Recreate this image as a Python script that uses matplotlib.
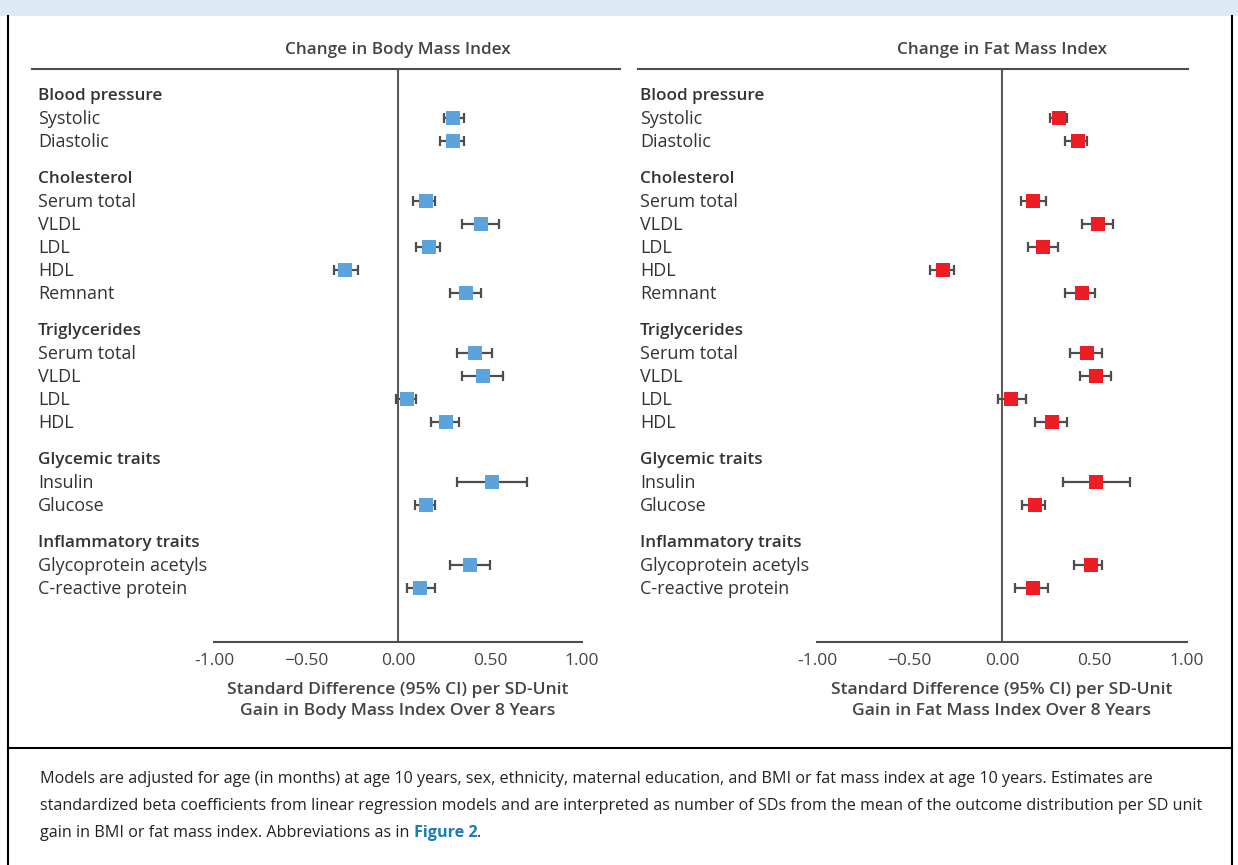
import matplotlib
matplotlib.use('Agg')
import matplotlib.pyplot as plt
import matplotlib.transforms as mtrans
from matplotlib.lines import Line2D
from matplotlib.patches import Rectangle

plt.rcParams['font.family'] = ['Open Sans', 'DejaVu Sans']

# data
groups = ['Blood pressure', 'Cholesterol', 'Triglycerides', 'Glycemic traits', 'Inflammatory traits']
traits = [['Systolic', 'Diastolic'],
          ['Serum total', 'VLDL', 'LDL', 'HDL', 'Remnant'],
          ['Serum total', 'VLDL', 'LDL', 'HDL'],
          ['Insulin', 'Glucose'],
          ['Glycoprotein acetyls', 'C-reactive protein']]

bmi_est = [0.30, 0.30, 0.15, 0.45, 0.17, -0.29, 0.37, 0.42, 0.46, 0.05, 0.26, 0.51, 0.15, 0.39, 0.12]
bmi_lo = [0.25, 0.23, 0.08, 0.35, 0.10, -0.35, 0.28, 0.32, 0.35, -0.01, 0.18, 0.32, 0.09, 0.28, 0.05]
bmi_hi = [0.36, 0.36, 0.20, 0.55, 0.23, -0.22, 0.45, 0.51, 0.57, 0.10, 0.33, 0.70, 0.20, 0.50, 0.20]

fmi_est = [0.31, 0.41, 0.17, 0.52, 0.22, -0.32, 0.43, 0.46, 0.51, 0.05, 0.27, 0.51, 0.18, 0.48, 0.17]
fmi_lo = [0.26, 0.34, 0.10, 0.43, 0.14, -0.39, 0.34, 0.37, 0.42, -0.02, 0.18, 0.33, 0.11, 0.39, 0.07]
fmi_hi = [0.35, 0.46, 0.24, 0.60, 0.30, -0.26, 0.50, 0.54, 0.59, 0.13, 0.35, 0.69, 0.23, 0.54, 0.25]

xticks = [-1.0, -0.5, 0.0, 0.5, 1.0]
xtick_labels = ['-1.00', '\u22120.50', '0.00', '0.50', '1.00']

panel_titles = ['Change in Body Mass Index', 'Change in Fat Mass Index']
xlabels = ['Standard Difference (95% CI) per SD-Unit\nGain in Body Mass Index Over 8 Years',
           'Standard Difference (95% CI) per SD-Unit\nGain in Fat Mass Index Over 8 Years']

caption = ['Models are adjusted for age (in months) at age 10 years, sex, ethnicity, maternal education, and BMI or fat mass index at age 10 years. Estimates are',
           'standardized beta coefficients from linear regression models and are interpreted as number of SDs from the mean of the outcome distribution per SD unit',
           'gain in BMI or fat mass index. Abbreviations as in ']

# row positions (1 unit = one text line)
GAP = 1.57
FIRST = 1.04
head_y = []
item_y = []
y = 0.0
for gi, items in enumerate(traits):
    if gi > 0:
        y += GAP
    head_y.append(y)
    for k in range(len(items)):
        y += FIRST if k == 0 else 1
        item_y.append(y)
item_names = [n for items in traits for n in items]

W, H = 1238, 865
fig = plt.figure(figsize=(W / 100, H / 100), dpi=100)
fig.patch.set_facecolor('white')

TXT = '#333333'
GREY = '#4d4d4d'

# frame, banner, divider
fig.add_artist(Rectangle((0, 1 - 16 / H), 1, 16 / H, transform=fig.transFigure,
                         facecolor='#dde9f5', edgecolor='none'))
fig.add_artist(Line2D([8 / W, 8 / W], [0, 1 - 16 / H], transform=fig.transFigure, color='black', lw=1.5))
fig.add_artist(Line2D([1232 / W, 1232 / W], [0, 1 - 16 / H], transform=fig.transFigure, color='black', lw=1.5))
fig.add_artist(Line2D([8 / W, 1232 / W], [1 - 748 / H, 1 - 748 / H], transform=fig.transFigure, color='black', lw=1.5))

panels = [
    dict(ax_l=214, ax_r=582, lab_x=38, line_l=32, line_r=620, est=bmi_est, lo=bmi_lo, hi=bmi_hi, color='#5ba3dc'),
    dict(ax_l=817, ax_r=1187, lab_x=640, line_l=638, line_r=1188, est=fmi_est, lo=fmi_lo, hi=fmi_hi, color='#ee1c25'),
]

top_px, bot_px = 69, 642
row_px = 23.0
first_px = 94
ymin = -(first_px - top_px) / row_px
ymax = (bot_px - first_px) / row_px
BASE = 6.0 / row_px  # baseline sits below the row centre

for p, title, xl in zip(panels, panel_titles, xlabels):
    ax = fig.add_axes([p['ax_l'] / W, 1 - bot_px / H, (p['ax_r'] - p['ax_l']) / W, (bot_px - top_px) / H])
    ax.set_xlim(-1, 1)
    ax.set_ylim(ymax, ymin)
    for s in ['top', 'left', 'right']:
        ax.spines[s].set_visible(False)
    ax.spines['bottom'].set_color(GREY)
    ax.spines['bottom'].set_linewidth(1.5)
    ax.set_yticks([])
    ax.set_xticks(xticks)
    ax.set_xticklabels(xtick_labels)
    ax.tick_params(axis='x', length=0, pad=8, labelsize=12.5, labelcolor='#444444')
    ax.set_xlabel(xl, fontsize=12.6, color='#444444', weight='semibold', labelpad=9, linespacing=1.45)
    ax.axvline(0, color='#5a5a5a', lw=1.5, zorder=1)

    # header line and title
    fig.add_artist(Line2D([p['line_l'] / W, p['line_r'] / W], [1 - top_px / H, 1 - top_px / H],
                          transform=fig.transFigure, color=GREY, lw=1.5))
    zero_px = ax.transData.transform((0, 0))[0]
    fig.text(zero_px / W, 1 - 50 / H, title, ha='center', va='center', fontsize=12.3,
             color='#444444', weight='semibold')

    # row labels
    tr = mtrans.blended_transform_factory(fig.transFigure, ax.transData)
    for g, gy in zip(groups, head_y):
        ax.text(p['lab_x'] / W, gy + BASE, g, transform=tr, ha='left', va='baseline', fontsize=12.3,
                color=TXT, weight='semibold', clip_on=False)
    for n, iy in zip(item_names, item_y):
        ax.text(p['lab_x'] / W, iy + BASE, n, transform=tr, ha='left', va='baseline', fontsize=13,
                color=TXT, clip_on=False)

    # estimates with CI
    est = p['est']
    lo = [e - l for e, l in zip(est, p['lo'])]
    hi = [h - e for e, h in zip(est, p['hi'])]
    ax.errorbar(est, item_y, xerr=[lo, hi], fmt='none', ecolor=GREY, elinewidth=1.6,
                capsize=3.3, capthick=1.6, zorder=2, clip_on=False)
    ax.plot(est, item_y, linestyle='none', marker='s', markersize=10.2, color=p['color'],
            markeredgewidth=0, zorder=3, clip_on=False)

# caption
cap_y = [779, 806, 833]
CAP_FS = 11.65
for line, cy in zip(caption, cap_y):
    t = fig.text(40 / W, 1 - cy / H, line, ha='left', va='center', fontsize=CAP_FS, color='#222222')
fig.canvas.draw()
r = fig.canvas.get_renderer()
bb = t.get_window_extent(renderer=r)
t2 = fig.text(bb.x1 / W, 1 - cap_y[-1] / H, 'Figure 2', ha='left', va='center', fontsize=CAP_FS,
              color='#1a7bb5', weight='bold')
bb2 = t2.get_window_extent(renderer=r)
fig.text(bb2.x1 / W, 1 - cap_y[-1] / H, '.', ha='left', va='center', fontsize=CAP_FS, color='#222222')

fig.savefig('out.png', dpi=100)
